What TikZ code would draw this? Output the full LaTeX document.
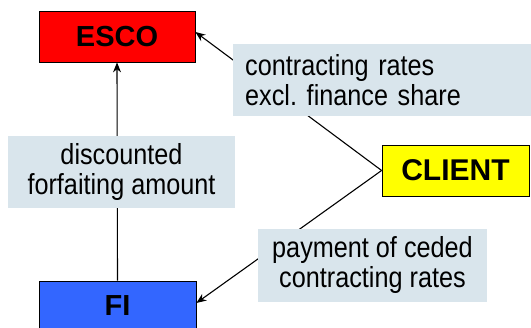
\documentclass[tikz,border=0pt]{standalone}
\usepackage{fontspec}
\setmainfont{Liberation Sans}
\newfontfamily\lblfont[FakeStretch=0.87]{Liberation Sans}
\usetikzlibrary{arrows.meta}
\definecolor{lblfill}{RGB}{217,229,236}
\definecolor{escored}{RGB}{255,0,0}
\definecolor{fiblue}{RGB}{51,102,255}
\definecolor{clientyellow}{RGB}{255,255,0}
\tikzset{
  party/.style={draw=black, line width=0.8pt, inner sep=0pt, minimum height=51pt,
    font=\fontsize{29}{32}\selectfont\bfseries},
  lbl/.style={fill=lblfill, inner sep=0pt, minimum height=72pt,
    font=\lblfont\fontsize{29}{30}\selectfont},
  conn/.style={line width=1.1pt, -{Stealth[length=10pt,width=8pt]}}
}
\begin{document}
\begin{tikzpicture}[x=1pt,y=1pt]
\useasboundingbox (0,0) rectangle (531,328);
\clip (0,0) rectangle (531,328);
\node[party, fill=escored, minimum width=156pt] (esco) at (117,291.5) {ESCO};
\node[party, fill=fiblue, minimum width=157pt, minimum height=50pt] (fi) at (117.5,22) {FI};
\node[party, fill=clientyellow, minimum width=147pt, font=\fontsize{30}{32}\selectfont\bfseries] (client) at (455.5,157.5) {CLIENT};
\draw[conn] (client.west) -- ([yshift=4.5pt]esco.east);
\draw[conn] (client.west) -- ([yshift=3pt]fi.east);
\draw[conn] (fi.north) -- (esco.south);
\node[lbl, anchor=west, text width=276pt, inner xsep=12pt, align=left] (l1) at (233,248) {contracting rates\\excl.\ finance share};
\node[lbl, minimum width=227pt, align=center] (l2) at (121.5,156) {discounted\\forfaiting amount};
\node[lbl, minimum width=229pt, minimum height=73pt, align=center] (l3) at (372.5,62.5) {payment of ceded\\contracting rates};
\end{tikzpicture}
\end{document}
